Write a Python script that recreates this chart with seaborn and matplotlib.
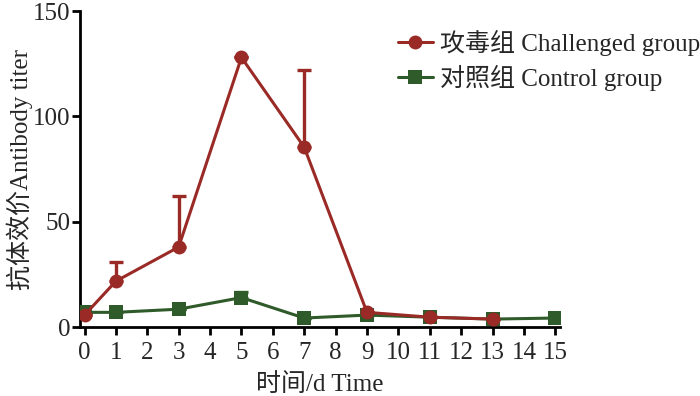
import pandas as pd
import seaborn as sns
import numpy as np
import matplotlib.pyplot as plt

days = [0, 1, 3, 5, 7, 9, 11, 13, 15]
challenged = [5.7, 21.8, 38, 128, 85.4, 7, 4.7, 3.8, np.nan]
challenged_err = [0, 9, 24, 0, 36.6, 0, 0, 0, 0]
control = [7, 7, 8.5, 14, 4.3, 5.7, 4.7, 3.8, 4.3]
control_err = [0, 0, 0, 2.6, 0, 0, 0, 0, 0]

lab_ch = "攻毒组 Challenged group"
lab_co = "对照组 Control group"
red = "#9a2a26"
green = "#2f5a29"

df = pd.DataFrame({
    "day": days * 2,
    "titer": challenged + control,
    "group": [lab_ch] * len(days) + [lab_co] * len(days),
})

sns.set_style("ticks")
plt.rcParams['font.family'] = ['Liberation Serif', 'Noto Sans CJK SC']

fig = plt.figure(figsize=(7, 3.96), dpi=100)
ax = fig.add_axes([0.114, 0.174, 0.686, 0.798])

# error bars (upper only), drawn behind the lines
ax.errorbar(days, control, yerr=[np.zeros(len(days)), control_err], fmt='none',
            ecolor=green, elinewidth=2.4, capsize=5, capthick=2.4, zorder=1)
ax.errorbar(days, challenged, yerr=[np.zeros(len(days)), challenged_err], fmt='none',
            ecolor=red, elinewidth=2.4, capsize=5, capthick=2.4, zorder=1)

# control drawn first so the red circles sit on top
sns.lineplot(data=df, x="day", y="titer", hue="group", style="group",
             hue_order=[lab_co, lab_ch], style_order=[lab_co, lab_ch],
             markers={lab_ch: "o", lab_co: "s"}, dashes=False,
             palette={lab_ch: red, lab_co: green}, markersize=10,
             markeredgewidth=0, linewidth=2.2, ax=ax, zorder=3)

ax.set_xlim(-0.15, 15.15)
ax.set_ylim(0, 150)
ax.set_xticks(range(16))
ax.set_yticks([0, 50, 100, 150])
ax.set_xlabel("时间/d Time", fontsize=18, labelpad=6)
ax.set_ylabel("抗体效价Antibody titer", fontsize=18, labelpad=0)
ax.tick_params(axis='x', labelsize=18, width=2, length=6, color='black', pad=5)
ax.tick_params(axis='y', labelsize=18, width=2, length=6, color='black', pad=1)
sns.despine(ax=ax)
for s in ['left', 'bottom']:
    ax.spines[s].set_linewidth(2)
    ax.spines[s].set_color('black')
ax.spines['left'].set_bounds(0, 150)

handles, labels = ax.get_legend_handles_labels()
order = [labels.index(lab_ch), labels.index(lab_co)]
ax.legend([handles[i] for i in order], [labels[i] for i in order],
          loc='upper left', bbox_to_anchor=(0.554, 0.95), bbox_transform=fig.transFigure,
          frameon=False, fontsize=18, handlelength=1.4, handletextpad=0.3,
          labelspacing=0.35, borderaxespad=0)

fig.savefig("out.png", dpi=100)
